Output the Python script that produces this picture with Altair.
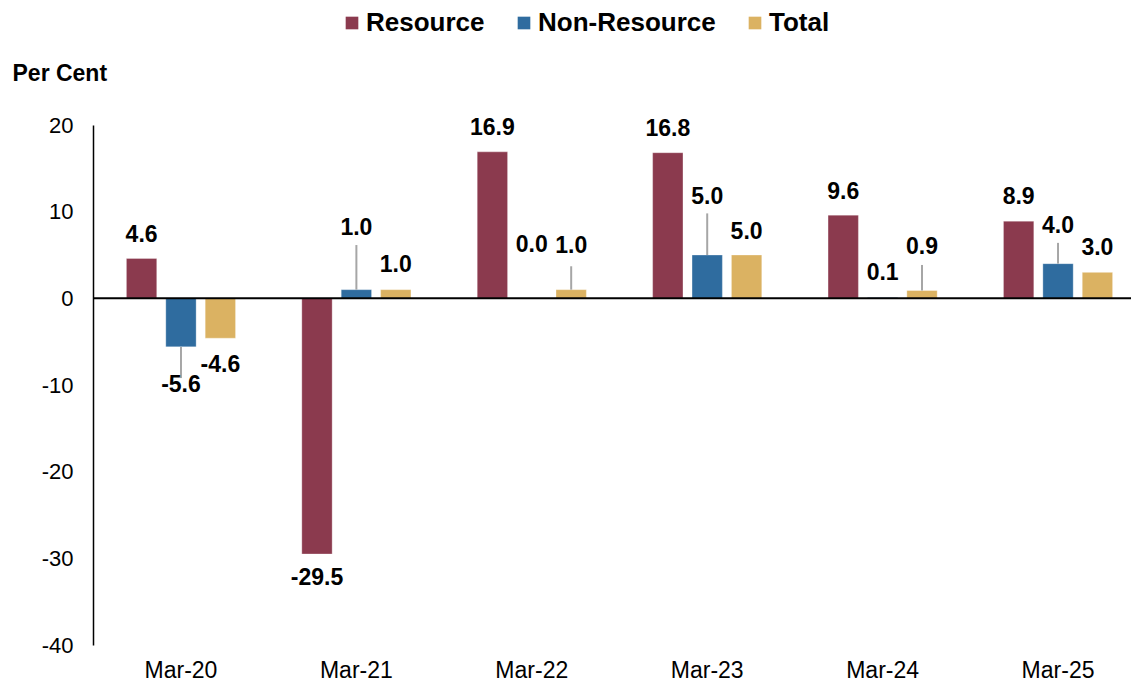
import altair as alt
import pandas as pd

categories = ["Mar-20", "Mar-21", "Mar-22", "Mar-23", "Mar-24", "Mar-25"]
series = ["Resource", "Non-Resource", "Total"]
resource = [4.6, -29.5, 16.9, 16.8, 9.6, 8.9]
non_resource = [-5.6, 1.0, 0.0, 5.0, 0.1, 4.0]
total = [-4.6, 1.0, 1.0, 5.0, 0.9, 3.0]

# label anchor positions (in data units)
resource_label_at = [7.3, -32.3, 19.65, 19.5, 12.3, 11.7]
non_resource_label_at = [-10.0, 8.1, 6.15, 11.7, 2.9, 8.3]
total_label_at = [-7.7, 3.85, 6.0, 7.65, 5.9, 5.8]
# leader line ends (None = no leader)
resource_leader_end = [None] * 6
non_resource_leader_end = [-9.2, 6.15, None, 9.8, None, 6.4]
total_leader_end = [None, None, 3.7, None, 3.85, None]

colors = ["#8B3A4E", "#2F6C9F", "#DBB262"]
FONT = "Liberation Sans"

rows = []
for s, vals, labs, leads in [
    ("Resource", resource, resource_label_at, resource_leader_end),
    ("Non-Resource", non_resource, non_resource_label_at, non_resource_leader_end),
    ("Total", total, total_label_at, total_leader_end),
]:
    for c, v, lp, le in zip(categories, vals, labs, leads):
        rows.append({"cat": c, "series": s, "value": v, "label_at": lp,
                     "leader_end": le, "text": f"{v:.1f}"})
df = pd.DataFrame(rows)

x = alt.X("cat:N", sort=categories, title=None,
          scale=alt.Scale(paddingInner=0.333, paddingOuter=0.168,
                          range=[0, 1053]),
          axis=alt.Axis(labelAngle=0, labelFont=FONT, labelFontSize=23,
                        labelColor="black", ticks=False, domain=False,
                        labelPadding=14))
xo = alt.XOffset("series:N", sort=series,
                 scale=alt.Scale(paddingInner=0.23, paddingOuter=0.1))

base = alt.Chart(df)

bars = base.mark_bar(stroke="white", strokeWidth=0.5, strokeOpacity=0.6).encode(
    x=x,
    xOffset=xo,
    y=alt.Y("value:Q",
            scale=alt.Scale(domain=[-40, 20], nice=False),
            title="Per Cent",
            axis=alt.Axis(values=[-40, -30, -20, -10, 0, 10, 20],
                          labelExpr="'' + datum.value",
                          labelFont=FONT, labelFontSize=22, labelColor="black",
                          ticks=False, grid=False, domain=True,
                          domainColor="black", domainWidth=1.5,
                          labelPadding=20,
                          titleAngle=0, titleX=-81, titleY=-52,
                          titleAlign="left", titleBaseline="middle",
                          titleFont=FONT, titleFontSize=23,
                          titleFontWeight="bold", titleColor="black")),
    color=alt.Color("series:N", sort=series,
                    scale=alt.Scale(domain=series, range=colors),
                    legend=alt.Legend(title=None, orient="none",
                                      direction="horizontal",
                                      legendX=246, legendY=-115,
                                      symbolType="square", symbolSize=160,
                                      symbolStrokeWidth=0,
                                      labelFont=FONT, labelFontSize=26,
                                      labelFontWeight="bold",
                                      labelColor="black", labelLimit=400,
                                      labelOffset=1, columnPadding=26)),
)

leaders = base.transform_filter("datum.leader_end != null").mark_rule(
    color="#A6A6A6", strokeWidth=2).encode(
    x=alt.X("cat:N", sort=categories),
    xOffset=xo,
    y="value:Q",
    y2="leader_end:Q",
)

labels = base.mark_text(font=FONT, fontSize=23, fontWeight="bold",
                        color="black", baseline="middle", align="center").encode(
    x=alt.X("cat:N", sort=categories),
    xOffset=xo,
    y="label_at:Q",
    text="text:N",
)

zero = alt.Chart(pd.DataFrame({"z": [0]})).mark_rule(
    color="black", strokeWidth=2).encode(
    y="z:Q", x=alt.value(0), x2=alt.value(1044))

chart = alt.layer(bars, zero, leaders, labels).properties(
    width=1038, height=520,
    autosize=alt.AutoSizeParams(type="none"),
    padding={"left": 85, "top": 117, "right": 0, "bottom": 38},
).configure_view(stroke=None)

chart.save("out.html", embed_options={"renderer": "svg", "actions": False})
